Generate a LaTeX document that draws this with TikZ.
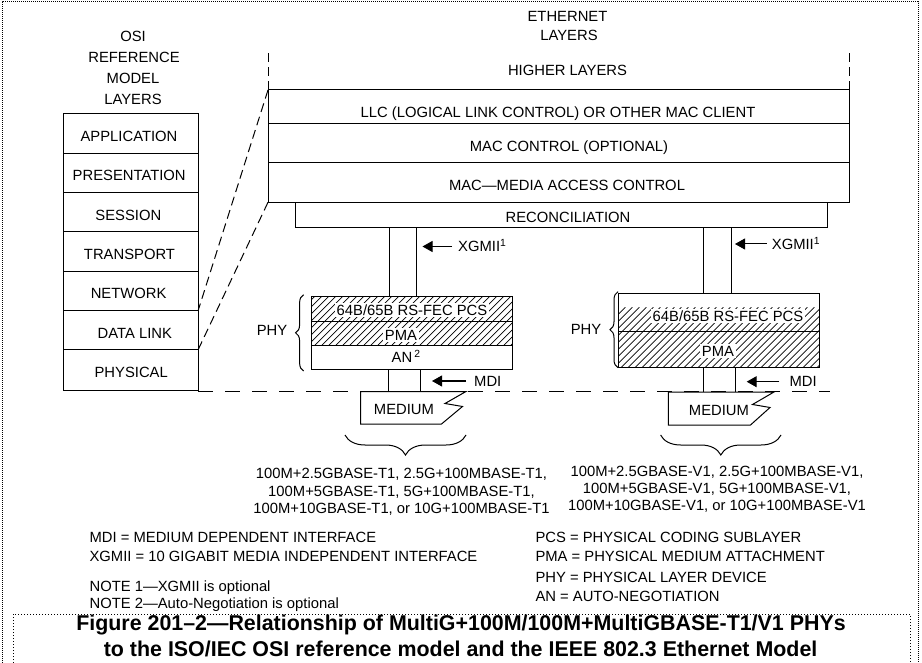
\documentclass[tikz,border=0pt]{standalone}
\usepackage{fontspec}
\setmainfont{Liberation Sans}
\usetikzlibrary{arrows.meta,decorations.pathreplacing,fit}
\newcommand\hatchrect[4]{\begin{scope}\clip (#1,#2) rectangle (#3,#4);
  \foreach \k in {0,...,42}{\draw[hatchline] ({#1-60+7*\k},#4) -- ++(60,-60);}\end{scope}}
\begin{document}
\begin{tikzpicture}[x=1pt,y=-1pt,
  box/.style={draw, line width=1pt, inner sep=0pt, outer sep=0pt},
  lbl/.style={inner sep=0pt, text height=10.6pt, text depth=0pt, font=\fontsize{14.8}{16}\selectfont},
  wlbl/.style={lbl, fill=white, inner xsep=2pt, inner ysep=1.5pt},
  note/.style={lbl, anchor=west},
  captxt/.style={inner sep=0pt, text height=15.3pt, text depth=0pt, font=\fontsize{21.4}{24}\selectfont\bfseries},
  ptr/.style={line width=1pt, -{Triangle[length=10pt,width=11pt]}},
  dashA/.style={line width=1pt, dash pattern=on 9pt off 5pt},
  dashH/.style={line width=1pt, dash pattern=on 15pt off 12pt},
  hatchline/.style={line width=0.7pt},
  brc/.style={line width=1pt, decorate, decoration={brace, amplitude=#1}},
  medium/.style={draw, line width=1pt},
]
\useasboundingbox (0,0) rectangle (922,663);
% frames
\draw[line width=1pt, dash pattern=on 1pt off 1pt] (2,663) -- (2,2) -- (918,2) -- (918,663);
\draw[line width=1pt, dash pattern=on 1pt off 2pt] (13,663) -- (13,614) -- (910,614) -- (910,663);

% OSI heading
\node[lbl] (osi1) at (133,36) {OSI};
\node[lbl] (osi2) at (134,57) {REFERENCE};
\node[lbl] (osi3) at (133,78) {MODEL};
\node[lbl] (osi4) at (133,99) {LAYERS};
% OSI stack
\node[box, fit={(63,114) (198,154)}] (app) {};
\node[box, fit={(63,154) (198,193)}] (pres) {};
\node[box, fit={(63,193) (198,232)}] (sess) {};
\node[box, fit={(63,232) (198,271.5)}] (trans) {};
\node[box, fit={(63,271.5) (198,311)}] (net) {};
\node[box, fit={(63,311) (198,350)}] (dl) {};
\node[box, fit={(63,350) (198,390)}] (phys) {};
\node[lbl] (appt) at (129,136) {APPLICATION};
\node[lbl] (prest) at (129.2,175) {PRESENTATION};
\node[lbl] (sesst) at (128.3,215) {SESSION};
\node[lbl] (transt) at (129.5,254) {TRANSPORT};
\node[lbl] (nett) at (128.6,293.3) {NETWORK};
\node[lbl] (dlt) at (134.8,333.3) {DATA LINK};
\node[lbl] (physt) at (131.2,372.3) {PHYSICAL};

% Ethernet heading
\node[lbl] (eth1) at (567.5,16) {ETHERNET};
\node[lbl] (eth2) at (569,35) {LAYERS};
\node[lbl] (high) at (567.5,70) {HIGHER LAYERS};

% hatching
\hatchrect{311.4}{296.3}{512.5}{345.7}
\hatchrect{618.3}{293.3}{819.3}{367.3}

% Ethernet stack
\node[box, fit={(268,90) (849,123.3)}] (llc) {};
\node[box, fit={(268,123.3) (849,162.3)}] (macc) {};
\node[box, fit={(268,162.3) (849,202.3)}] (mac) {};
\node[box, fit={(295.3,202.3) (827.3,227.3)}] (rec) {};
\node[lbl] (llct) at (558,112) {LLC (LOGICAL LINK CONTROL) OR OTHER MAC CLIENT};
\node[lbl] (macct) at (569,146) {MAC CONTROL (OPTIONAL)};
\node[lbl] (mact) at (567,185.3) {MAC\textemdash MEDIA ACCESS CONTROL};
\node[lbl] (rect) at (568,217) {RECONCILIATION};

% left PHY
\node[box, fit={(389.3,227.3) (416.4,296.3)}] (xgL) {};
\node[box, fit={(311.4,296.3) (512.5,321.3)}] (pcsL) {};
\node[box, fit={(311.4,321.3) (512.5,345.7)}] (pmaL) {};
\node[box, fit={(311.4,345.7) (512.5,369.3)}] (anL) {};
\node[box, fit={(388.5,369.3) (420.5,391)}] (mdiL) {};
\node[wlbl] (pcsLt) at (412,310) {64B/65B RS-FEC PCS};
\node[wlbl] (pmaLt) at (401,335) {PMA};
\node[lbl, anchor=west] (anLt) at (391.5,357.3) {AN\hspace{2pt}\textsuperscript{2}};
\node[lbl] (phyL) at (272,330) {PHY};
\draw[brc=8pt] (303.6,371) -- (303.6,294.7);

% right PHY
\node[box, fit={(703.3,227.3) (731.7,293.3)}] (xgR) {};
\node[box, fit={(618.3,293.3) (819.3,331.3)}] (pcsR) {};
\node[box, fit={(618.3,331.3) (819.3,367.3)}] (pmaR) {};
\node[wlbl] (pcsRt) at (728,316) {64B/65B RS-FEC PCS};
\node[wlbl] (pmaRt) at (718,351) {PMA};
\node[lbl] (phyR) at (586,329) {PHY};
\draw[brc=8pt] (618,367.7) -- (618,291.7);
\coordinate (mdiRa) at (703.3,392);
\coordinate (mdiRb) at (735,392);
\draw[line width=1pt] (pmaR.south -| mdiRa) -- (mdiRa);
\draw[line width=1pt] (pmaR.south -| mdiRb) -- (mdiRb);

% interface pointers
\node[lbl, anchor=west] (xgmiiL) at (458,246.5) {XGMII\textsuperscript{1}};
\coordinate (xgLtip) at (422.5,246.5);
\draw[ptr, shorten <=6pt] (xgmiiL.west) -- (xgLtip);
\node[lbl, anchor=west] (xgmiiR) at (771.7,244) {XGMII\textsuperscript{1}};
\coordinate (xgRtip) at (735,244);
\draw[ptr, shorten <=5pt] (xgmiiR.west) -- (xgRtip);
\node[lbl, anchor=west] (mdiLt) at (474,381) {MDI};
\coordinate (mdiLtip) at (432,381);
\draw[ptr, shorten <=8pt] (mdiLt.west) -- (mdiLtip);
\node[lbl, anchor=west] (mdiRt) at (789.3,381.7) {MDI};
\coordinate (mdiRtip) at (746.7,381.7);
\draw[ptr, shorten <=10pt] (mdiRt.west) -- (mdiRtip);

% dashed guides
\coordinate (vtL) at (268,53);
\coordinate (vtR) at (849,51);
\coordinate (dashend) at (830,391);
\draw[dashA] (llc.north west) -- (vtL);
\draw[dashA] (llc.north east) -- (vtR);
\draw[dashA] (llc.north west) -- (dl.north east);
\draw[dashA] (mac.south west) -- (dl.south east);
\draw[dashH] (198,391) -- (dashend);

% media
\draw[medium] (360.7,391.5) -- (466,391.5) -- (445,403.5) -- (462.5,406.5) -- (441.5,424) -- (360.7,424) -- cycle;
\node[lbl] (medLt) at (404,409) {MEDIUM};
\draw[medium] (668.3,392) -- (774,392) -- (752.5,404.5) -- (770,407.5) -- (750.5,425) -- (668.3,425) -- cycle;
\node[lbl] (medRt) at (719,410) {MEDIUM};
\draw[brc=20pt] (466,435) -- (345,435);
\draw[brc=20pt] (781,435) -- (660.6,435);

% PHY type lists
\node[lbl] (tL1) at (401.5,473.5) {100M+2.5GBASE-T1, 2.5G+100MBASE-T1,};
\node[lbl] (tL2) at (401.5,491.3) {100M+5GBASE-T1, 5G+100MBASE-T1,};
\node[lbl] (tL3) at (401.5,508.3) {100M+10GBASE-T1, or 10G+100MBASE-T1};
\node[lbl] (tR1) at (717,471.5) {100M+2.5GBASE-V1, 2.5G+100MBASE-V1,};
\node[lbl] (tR2) at (717,488.5) {100M+5GBASE-V1, 5G+100MBASE-V1,};
\node[lbl] (tR3) at (717,505.5) {100M+10GBASE-V1, or 10G+100MBASE-V1};

% legend
\node[note] (lg1) at (89.4,536.7) {MDI = MEDIUM DEPENDENT INTERFACE};
\node[note] (lg2) at (89.4,556) {XGMII = 10 GIGABIT MEDIA INDEPENDENT INTERFACE};
\node[note] (lg3) at (89.4,585.7) {NOTE 1\textemdash XGMII is optional};
\node[note] (lg4) at (89.4,602.7) {NOTE 2\textemdash Auto-Negotiation is optional};
\node[note] (lg5) at (535.3,536.7) {PCS = PHYSICAL CODING SUBLAYER};
\node[note] (lg6) at (535.3,556) {PMA = PHYSICAL MEDIUM ATTACHMENT};
\node[note] (lg7) at (535.3,576.7) {PHY = PHYSICAL LAYER DEVICE};
\node[note] (lg8) at (535.3,595.7) {AN = AUTO-NEGOTIATION};

% caption
\node[captxt] (cap1) at (461,623.3) {Figure 201\textendash 2\textemdash Relationship of MultiG+100M/100M+MultiGBASE-T1/V1 PHYs};
\node[captxt] (cap2) at (460.6,648.7) {to the ISO/IEC OSI reference model and the IEEE 802.3 Ethernet Model};
\end{tikzpicture}
\end{document}
